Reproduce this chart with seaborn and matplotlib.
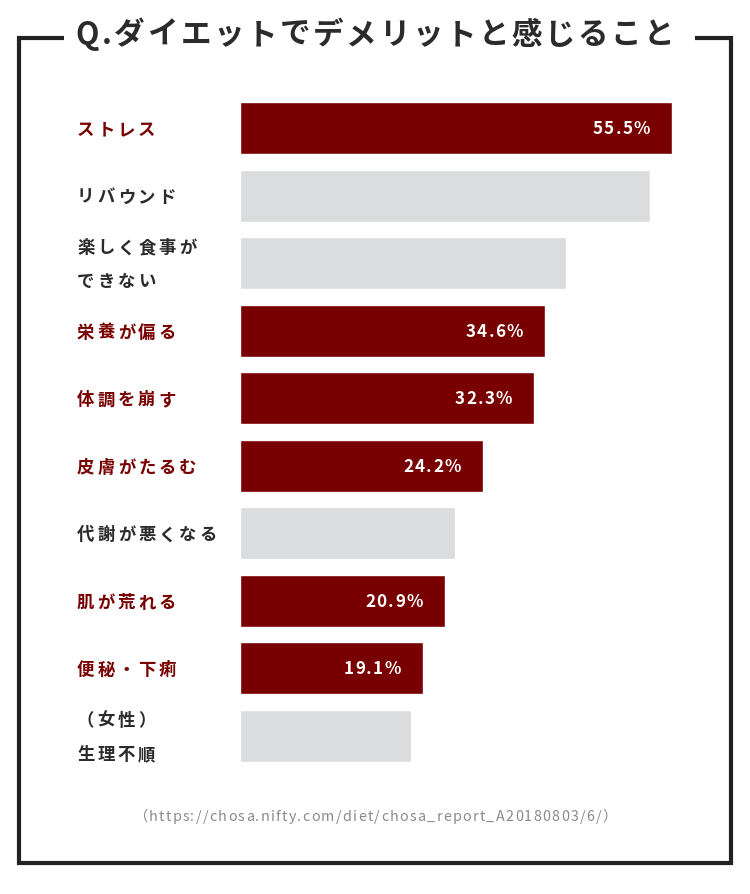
import matplotlib
matplotlib.use("Agg")
import matplotlib.pyplot as plt
import matplotlib.transforms as mtransforms
from matplotlib.lines import Line2D
import seaborn as sns
import pandas as pd

# ---- data ----
categories = ["ストレス", "リバウンド", "楽しく食事が\nできない", "栄養が偏る", "体調を崩す",
              "皮膚がたるむ", "代謝が悪くなる", "肌が荒れる", "便秘・下痢", "（女性）\n生理不順"]
bar_lengths = [55.5, 52.7, 41.9, 39.2, 37.8, 31.2, 27.6, 26.3, 23.5, 22.0]
value_labels = ["55.5%", "", "", "34.6%", "32.3%", "24.2%", "", "20.9%", "19.1%", ""]
highlight = [True, False, False, True, True, True, False, True, True, False]
title = "Q.ダイエットでデメリットと感じること"
source = "（https://chosa.nifty.com/diet/chosa_report_A20180803/6/）"

RED = "#780000"
GRAY = "#DBDCDE"
DARK = "#2b2b2b"

sns.set_style("white")
plt.rcParams["font.family"] = ["Noto Sans CJK JP", "DejaVu Sans"]

W, H = 750, 894
fig = plt.figure(figsize=(W / 100, H / 100), dpi=100)
pix = mtransforms.Affine2D().scale(1 / W, -1 / H).translate(0, 1) + fig.transFigure

df = pd.DataFrame({"cat": categories, "val": bar_lengths,
                   "grp": ["hi" if h else "lo" for h in highlight]})

# bar axes: x from 240px, 55.5 -> 672px ; bar centres 128..736px
x0, x1 = 240, 672
step = (736 - 128) / 9
top = 128 - step / 2
bot = 736 + step / 2
ax = fig.add_axes([x0 / W, 1 - bot / H, (x1 - x0) / W, (bot - top) / H])
sns.barplot(data=df, y="cat", x="val", hue="grp", palette={"hi": RED, "lo": GRAY},
            width=52 / step, legend=False, ax=ax, orient="h", saturation=1)
ax.set_xlim(0, bar_lengths[0])
ax.axis("off")

renderer = fig.canvas.get_renderer()


def tracked(x, y, s, size, color, weight="bold", track=0.0, ha="left", trans=None):
    trans = trans or pix
    items = []
    widths = []
    for ch in s:
        t = fig.text(0, 0, ch, fontsize=size, color=color, fontweight=weight,
                     va="center", ha="left", transform=trans)
        w = t.get_window_extent(renderer).width
        items.append(t)
        widths.append(w)
    total = sum(widths) + track * (len(s) - 1)
    if ha == "right":
        cx = x - total
    elif ha == "center":
        cx = x - total / 2
    else:
        cx = x
    for t, w in zip(items, widths):
        t.set_position((cx, y))
        cx += w + track
    return total


# category labels
for i, (cat, h) in enumerate(zip(categories, highlight)):
    yc = 130 + i * step
    lines = cat.split("\n")
    col = RED if h else DARK
    if len(lines) == 1:
        tracked(77, yc, lines[0], 12.5, col, track=3.0)
    else:
        tracked(77, yc - 17, lines[0], 12.5, col, track=3.0)
        tracked(77, yc + 17, lines[1], 12.5, col, track=3.0)

# value labels inside bars
for i, (v, lab) in enumerate(zip(bar_lengths, value_labels)):
    if lab:
        xe = ax.transData.transform((v, 0))[0]
        yc = 129 + i * step
        tracked(xe - 22, yc, lab, 12.3, "white", weight="bold", track=1.3, ha="right")

# title
tracked(375, 35, title, 22, DARK, weight="bold", track=2.6, ha="center")

# source
tracked(375, 817, source, 10.3, "#8a8a8a", weight="normal", track=1.3, ha="center")

# frame
lw = 3.0
for xs, ys in [([19, 19], [36, 865]), ([17, 733], [863, 863]), ([731, 731], [36, 865]),
               ([17, 64], [38, 38]), ([695, 733], [38, 38])]:
    fig.add_artist(Line2D(xs, ys, transform=pix, color="#222222", lw=lw,
                          solid_capstyle="butt"))

fig.savefig("out.png", dpi=100)
